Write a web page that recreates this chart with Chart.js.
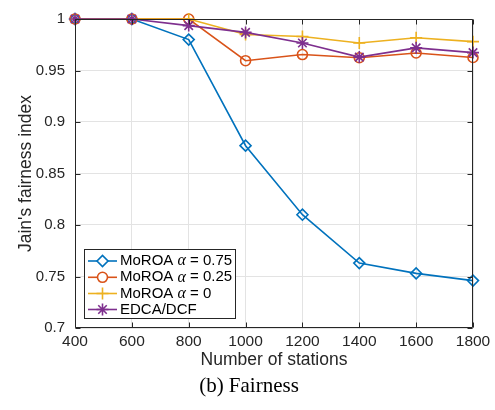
<!DOCTYPE html>
<html>
<head>
<meta charset="utf-8">
<script src="https://cdn.jsdelivr.net/npm/chart.js@4/dist/chart.umd.min.js"></script>
<style>
html,body{margin:0;padding:0;background:#fff;}
#wrap{width:495px;height:410px;position:relative;}
</style>
</head>
<body>
<div id="wrap"><canvas id="c" width="495" height="410"></canvas></div>
<script>
// ---- data ----
const stations = [400, 600, 800, 1000, 1200, 1400, 1600, 1800];
const moroa075 = [1, 1, 0.980, 0.877, 0.810, 0.763, 0.753, 0.746];
const moroa025 = [1, 1, 1, 0.9595, 0.9655, 0.9624, 0.967, 0.9626];
const moroa0   = [1, 1, 1, 0.985, 0.983, 0.9767, 0.9818, 0.978];
const edcaDcf  = [1, 1, 0.9936, 0.987, 0.9767, 0.963, 0.972, 0.9674];
const seriesLabels = ['MoROA α = 0.75', 'MoROA α = 0.25', 'MoROA α = 0', 'EDCA/DCF'];
const yTicks = [0.7, 0.75, 0.8, 0.85, 0.9, 0.95, 1];
const xTicks = [400, 600, 800, 1000, 1200, 1400, 1600, 1800];
const xTitle = 'Number of stations';
const yTitle = "Jain's fairness index";
const caption = '(b) Fairness';

const COLORS = ['#0072BD', '#D95319', '#EDB120', '#7E2F8E'];
const STYLES = ['rectRot', 'circle', 'cross', 'star'];
const RADII = [5.5, 5, 6, 6];
const AXIS = '#262626';
const SANS = '"Liberation Sans", Arial, Helvetica, sans-serif';

function pts(vals){ return stations.map((x,i)=>({x:x, y:vals[i]})); }
const allVals = [moroa075, moroa025, moroa0, edcaDcf];

const datasets = allVals.map((v,i)=>({
  label: seriesLabels[i],
  data: pts(v),
  borderColor: COLORS[i],
  backgroundColor: 'rgba(0,0,0,0)',
  pointBackgroundColor: 'rgba(0,0,0,0)',
  pointBorderColor: COLORS[i],
  pointStyle: STYLES[i],
  pointRadius: RADII[i],
  pointBorderWidth: 1.6,
  borderWidth: 1.6,
  tension: 0,
  clip: false,
  order: 3 - i
}));

const framePlugin = {
  id: 'frame',
  afterDatasetsDraw(chart){
    const ctx = chart.ctx, a = chart.chartArea;
    const xs = chart.scales.x, ys = chart.scales.y;
    ctx.save();
    ctx.strokeStyle = AXIS;
    ctx.lineWidth = 1;
    ctx.beginPath();
    const L = Math.round(a.left)+0.5, R = Math.round(a.right)-0.5, T = Math.round(a.top)+0.5, B = Math.round(a.bottom)-0.5;
    ctx.rect(L, T, R-L, B-T);
    const tl = 5;
    xTicks.forEach(v=>{
      const px = Math.round(xs.getPixelForValue(v))+0.5;
      ctx.moveTo(px, B); ctx.lineTo(px, B-tl);
      ctx.moveTo(px, T); ctx.lineTo(px, T+tl);
    });
    yTicks.forEach(v=>{
      const py = Math.round(ys.getPixelForValue(v))+0.5;
      ctx.moveTo(L, py); ctx.lineTo(L+tl, py);
      ctx.moveTo(R, py); ctx.lineTo(R-tl, py);
    });
    ctx.stroke();
    ctx.restore();
  },
  afterDraw(chart){
    const ctx = chart.ctx;
    ctx.save();
    // legend box
    const bx = 84.5, by = 249.5, bw = 151, bh = 69;
    ctx.fillStyle = '#fff';
    ctx.fillRect(bx, by, bw, bh);
    ctx.strokeStyle = AXIS; ctx.lineWidth = 1;
    ctx.strokeRect(bx, by, bw, bh);
    const rowY = [261, 277.3, 293.5, 309.5];
    chart.data.datasets.forEach((ds, i)=>{
      const y = rowY[i];
      ctx.strokeStyle = ds.borderColor; ctx.lineWidth = 1.6;
      ctx.beginPath(); ctx.moveTo(88, y); ctx.lineTo(117, y); ctx.stroke();
      ctx.fillStyle = '#fff';
      Chart.helpers.drawPoint(ctx, {pointStyle: ds.pointStyle, radius: ds.pointRadius, borderWidth: 1.6, rotation: 0}, 102.5, y);
      // label
      ctx.fillStyle = '#000';
      ctx.textBaseline = 'middle';
      ctx.textAlign = 'left';
      let x = 120;
      const parts = ds.label.split('α');
      ctx.font = '15px ' + SANS;
      ctx.fillText(parts[0], x, y);
      x += ctx.measureText(parts[0]).width;
      if (parts.length > 1){
        ctx.font = 'italic 16px "Liberation Serif", "Times New Roman", serif';
        ctx.fillText('α', x, y);
        x += ctx.measureText('α').width;
        ctx.font = '15px ' + SANS;
        ctx.fillText(parts[1], x, y);
      }
    });
    // caption
    ctx.fillStyle = '#000';
    ctx.font = '21px "Liberation Serif", "Times New Roman", serif';
    ctx.textAlign = 'center';
    ctx.textBaseline = 'middle';
    ctx.fillText(caption, 249, 386);
    ctx.restore();
  }
};

new Chart(document.getElementById('c'), {
  type: 'line',
  data: { datasets },
  options: {
    responsive: false,
    animation: false,
    devicePixelRatio: 1,
    layout: { padding: { left: 0, right: 22, top: 15, bottom: 36 } },
    plugins: { legend: { display: false }, tooltip: { enabled: false } },
    scales: {
      x: {
        type: 'linear',
        min: 400, max: 1800,
        afterBuildTicks(scale){ scale.ticks = xTicks.map(v=>({value:v})); },
        afterFit(scale){ scale.height = 46; },
        grid: { color: '#e3e3e3', lineWidth: 1, drawTicks: false },
        border: { display: false },
        ticks: { color: AXIS, font: { family: SANS, size: 15.5 }, padding: 4, maxRotation: 0, autoSkip: false,
          callback: v => String(v) },
        title: { display: true, text: xTitle, color: AXIS, font: { family: SANS, size: 17.5 }, padding: { top: 0, bottom: 3.5 } }
      },
      y: {
        type: 'linear',
        min: 0.7, max: 1,
        afterBuildTicks(scale){ scale.ticks = yTicks.map(v=>({value:v})); },
        afterFit(scale){ scale.width = 75; },
        grid: { color: '#e3e3e3', lineWidth: 1, drawTicks: false },
        border: { display: false },
        ticks: { color: AXIS, font: { family: SANS, size: 15 }, padding: 10, autoSkip: false,
          callback: v => String(+(+v).toFixed(2)) },
        title: { display: true, text: yTitle, color: AXIS, font: { family: SANS, size: 17.5 }, padding: { top: 15.5, bottom: 0 } }
      }
    }
  },
  plugins: [framePlugin]
});
</script>
</body>
</html>
